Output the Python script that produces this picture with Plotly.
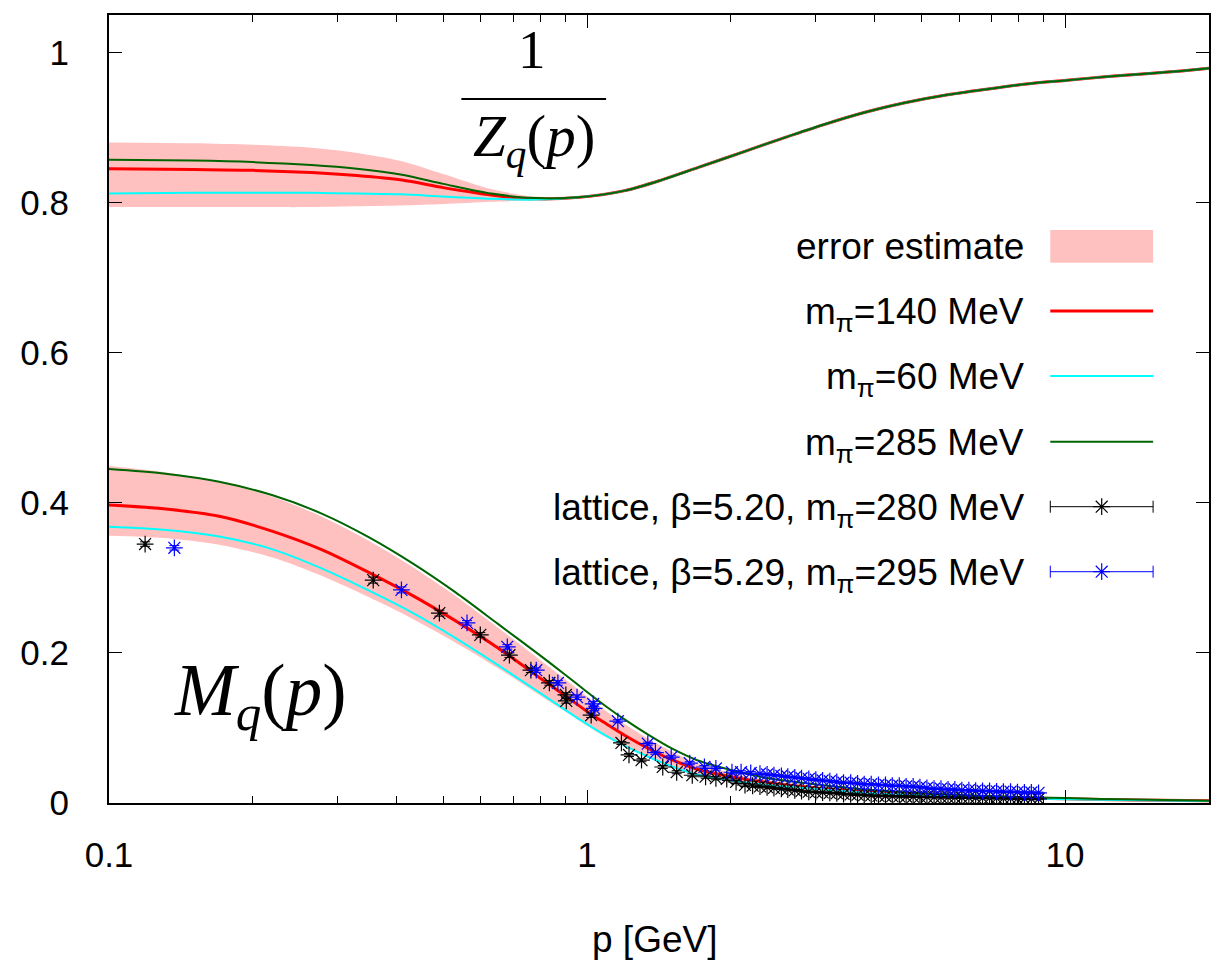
import plotly.graph_objects as go

# ---------------- data ----------------
# 1/Z_q(p) curves
pz = [0.1, 0.15, 0.2, 0.265, 0.33, 0.41, 0.5, 0.63, 0.78, 0.96, 1.2, 1.43, 1.71, 2.11,
      2.6, 3.13, 3.8, 4.62, 5.6, 6.84, 8.3, 10.1, 12.3, 15, 17.5, 20]
z_140 = [0.845, 0.844, 0.843, 0.840, 0.836, 0.830, 0.820, 0.810, 0.805, 0.807, 0.816, 0.830, 0.847, 0.867,
         0.887, 0.904, 0.920, 0.933, 0.943, 0.951, 0.958, 0.963, 0.968, 0.972, 0.9755, 0.979]
z_60 = [0.812, 0.813, 0.813, 0.813, 0.812, 0.811, 0.808, 0.805, 0.804, 0.807, 0.816, 0.830, 0.847, 0.867,
        0.887, 0.904, 0.920, 0.933, 0.943, 0.951, 0.958, 0.963, 0.968, 0.972, 0.9755, 0.979]
z_285 = [0.857, 0.856, 0.854, 0.850, 0.845, 0.837, 0.825, 0.812, 0.806, 0.807, 0.816, 0.830, 0.847, 0.867,
         0.887, 0.904, 0.920, 0.933, 0.943, 0.951, 0.958, 0.963, 0.968, 0.972, 0.9755, 0.979]
z_err_hi = [0.880, 0.879, 0.877, 0.873, 0.866, 0.855, 0.838, 0.818, 0.808, 0.809, 0.818, 0.832, 0.849, 0.869,
            0.889, 0.906, 0.922, 0.935, 0.945, 0.953, 0.960, 0.965, 0.970, 0.974, 0.9775, 0.981]
z_err_lo = [0.794, 0.794, 0.794, 0.794, 0.795, 0.796, 0.798, 0.801, 0.803, 0.805, 0.814, 0.828, 0.845, 0.865,
            0.885, 0.902, 0.918, 0.931, 0.941, 0.949, 0.956, 0.961, 0.966, 0.970, 0.9735, 0.977]

# M_q(p) curves
pm = [0.1, 0.13, 0.17, 0.22, 0.28, 0.35, 0.43, 0.53, 0.65, 0.8, 0.9, 1.0, 1.1, 1.2, 1.35, 1.5, 1.7,
      2.0, 2.4, 3.0, 4.0, 5.5, 7.5, 10, 14, 20]
m_140 = [0.397, 0.392, 0.382, 0.362, 0.337, 0.307, 0.277, 0.243, 0.207, 0.166, 0.143, 0.122, 0.105, 0.090,
         0.072, 0.058, 0.045, 0.035, 0.027, 0.020, 0.014, 0.010, 0.0072, 0.0055, 0.004, 0.003]
m_60 = [0.368, 0.364, 0.355, 0.338, 0.312, 0.283, 0.254, 0.220, 0.184, 0.146, 0.124, 0.105, 0.089, 0.076,
        0.061, 0.049, 0.038, 0.030, 0.024, 0.019, 0.013, 0.0095, 0.007, 0.005, 0.0038, 0.0028]
m_285 = [0.445, 0.439, 0.428, 0.410, 0.385, 0.354, 0.320, 0.281, 0.239, 0.196, 0.171, 0.148, 0.128, 0.111,
         0.090, 0.073, 0.057, 0.044, 0.033, 0.025, 0.017, 0.012, 0.0085, 0.0065, 0.0045, 0.003]
m_err_hi = [0.449, 0.441, 0.428, 0.408, 0.381, 0.349, 0.315, 0.276, 0.234, 0.190, 0.165, 0.142, 0.122, 0.105,
            0.085, 0.069, 0.053, 0.040, 0.030, 0.023, 0.016, 0.011, 0.008, 0.006, 0.0043, 0.0032]
m_err_lo = [0.356, 0.353, 0.344, 0.327, 0.302, 0.274, 0.246, 0.214, 0.180, 0.143, 0.122, 0.103, 0.087, 0.075,
            0.060, 0.048, 0.037, 0.029, 0.023, 0.018, 0.0125, 0.009, 0.0066, 0.0048, 0.0036, 0.0027]

# lattice data
p_dense = [2.30, 2.38, 2.46, 2.55, 2.63, 2.72, 2.81, 2.91, 3.01, 3.11, 3.22, 3.33, 3.44, 3.56, 3.68,
           3.80, 3.93, 4.07, 4.21, 4.35, 4.50, 4.65, 4.81, 4.97, 5.14, 5.32, 5.50, 5.69, 5.88, 6.08,
           6.29, 6.50, 6.72, 6.95, 7.19, 7.43, 7.69, 7.95, 8.22, 8.50, 8.80]

lat520_p = [0.119, 0.357, 0.491, 0.598, 0.688, 0.763, 0.834, 0.903, 0.905, 1.02, 1.18, 1.224, 1.30,
            1.44, 1.54, 1.66, 1.77, 1.86, 1.96, 2.05, 2.14, 2.22] + p_dense
lat520_m = [0.345, 0.297, 0.253, 0.224, 0.197, 0.177, 0.160, 0.144, 0.136, 0.117, 0.080, 0.064, 0.057,
            0.048, 0.041, 0.037, 0.035, 0.033, 0.032, 0.028, 0.024, 0.023,
            0.022, 0.021, 0.020, 0.019, 0.018, 0.017, 0.016, 0.015, 0.0145, 0.014, 0.0135, 0.013, 0.012,
            0.0115, 0.011, 0.0105, 0.010, 0.0095, 0.0093, 0.009, 0.0088, 0.0086, 0.0084, 0.0082, 0.008,
            0.0078, 0.0076, 0.0075, 0.0073, 0.0071, 0.007, 0.0068, 0.0066, 0.0065, 0.0063, 0.0061, 0.006,
            0.0058, 0.0057, 0.0055, 0.0054]
lat520_e = [0.003, 0.004, 0.004, 0.003, 0.003, 0.003, 0.003, 0.003, 0.003, 0.003, 0.002, 0.002, 0.002,
            0.002, 0.002, 0.002, 0.002, 0.002, 0.002, 0.002, 0.002, 0.002] + [0.001] * 41

lat529_p = [0.137, 0.409, 0.561, 0.681, 0.783, 0.869, 0.953, 1.03, 1.035, 1.16, 1.34, 1.39, 1.50, 1.64,
            1.76, 1.86, 2.01, 2.10, 2.20] + p_dense
lat529_m = [0.340, 0.284, 0.240, 0.208, 0.177, 0.160, 0.141, 0.132, 0.126, 0.109, 0.079, 0.067, 0.061,
            0.053, 0.048, 0.046, 0.041, 0.041, 0.040,
            0.039, 0.038, 0.037, 0.036, 0.035, 0.034, 0.033, 0.032, 0.031, 0.030, 0.029, 0.028, 0.027,
            0.027, 0.026, 0.025, 0.025, 0.024, 0.024, 0.023, 0.023, 0.022, 0.022, 0.021, 0.020, 0.019,
            0.019, 0.018, 0.018, 0.017, 0.017, 0.0165, 0.016, 0.016, 0.0155, 0.015, 0.015, 0.0145,
            0.014, 0.014, 0.0135]
lat529_e = [0.003, 0.004, 0.003, 0.003, 0.003, 0.003, 0.003, 0.003, 0.003, 0.002, 0.002, 0.002, 0.002,
            0.002, 0.002, 0.002, 0.002, 0.002, 0.002] + [0.001] * 41

y_tickvals = [0, 0.2, 0.4, 0.6, 0.8, 1]

legend_labels = ["error estimate", "m<sub>π</sub>=140 MeV", "m<sub>π</sub>=60 MeV",
                 "m<sub>π</sub>=285 MeV", "lattice, β=5.20, m<sub>π</sub>=280 MeV",
                 "lattice, β=5.29, m<sub>π</sub>=295 MeV"]

# ---------------- styling ----------------
W, H = 1223, 970
ML, MR, MT, MB = 109, 12, 15, 167
PW, PH = W - ML - MR, H - MT - MB
PINK = "#ffc0c0"
RED, CYAN, GREEN = "#ff0000", "#00ffff", "#006400"
BLACK, BLUE = "#000000", "#0000ff"
FONT = "Liberation Sans"
SERIF = "Liberation Serif"
SPL = dict(shape="spline", smoothing=0.8)


def px2paper_x(px):
    return (px - ML) / PW


def px2paper_y(py):
    return (H - MB - py) / PH


fig = go.Figure()

# error bands
for p, lo, hi in [(pz, z_err_lo, z_err_hi), (pm, m_err_lo, m_err_hi)]:
    fig.add_trace(go.Scatter(x=p, y=lo, mode="lines", line=dict(width=0, **SPL),
                             hoverinfo="skip", showlegend=False))
    fig.add_trace(go.Scatter(x=p, y=hi, mode="lines", line=dict(width=0, **SPL),
                             fill="tonexty", fillcolor=PINK, hoverinfo="skip", showlegend=False))

# curves
for p, y140, y60, y285 in [(pz, z_140, z_60, z_285), (pm, m_140, m_60, m_285)]:
    fig.add_trace(go.Scatter(x=p, y=y140, mode="lines", line=dict(color=RED, width=3, **SPL), showlegend=False))
    fig.add_trace(go.Scatter(x=p, y=y60, mode="lines", line=dict(color=CYAN, width=2, **SPL), showlegend=False))
    fig.add_trace(go.Scatter(x=p, y=y285, mode="lines", line=dict(color=GREEN, width=2, **SPL), showlegend=False))

# lattice points
MK = dict(symbol="asterisk-open", size=14)
for p, m, e, col in [(lat520_p, lat520_m, lat520_e, BLACK), (lat529_p, lat529_m, lat529_e, BLUE)]:
    fig.add_trace(go.Scatter(
        x=p, y=m, mode="markers",
        marker=dict(color=col, line=dict(color=col, width=1.2), **MK),
        error_y=dict(type="data", array=e, visible=True, color=col, thickness=1, width=5),
        showlegend=False))

# legend (gnuplot style: text right-aligned, sample on the right)
row_y = [246.5, 311, 376, 441.7, 506.7, 571.7]
sx0, sx1 = px2paper_x(1052), px2paper_x(1155)
sxm = px2paper_x(1103.5)
tx = px2paper_x(1028)
shapes = []
annotations = []
for i, lab in enumerate(legend_labels):
    yy = px2paper_y(row_y[i] + (0 if i == 0 else 3))
    annotations.append(dict(text=lab, x=tx, y=yy, xref="paper", yref="paper",
                            xanchor="right", yanchor="middle", showarrow=False,
                            font=dict(family=FONT, size=37, color="black")))
shapes.append(dict(type="rect", xref="paper", yref="paper", x0=sx0, x1=sx1,
                   y0=px2paper_y(262.7), y1=px2paper_y(230), fillcolor=PINK, line=dict(width=0)))
for i, (col, w) in zip([1, 2, 3], [(RED, 3), (CYAN, 2), (GREEN, 2)]):
    yy = px2paper_y(row_y[i])
    shapes.append(dict(type="line", xref="paper", yref="paper", x0=sx0, x1=sx1, y0=yy, y1=yy,
                       line=dict(color=col, width=w)))
cap = 6 / PH
for i, col in [(4, BLACK), (5, BLUE)]:
    yy = px2paper_y(row_y[i])
    shapes.append(dict(type="line", xref="paper", yref="paper", x0=sx0, x1=sx1, y0=yy, y1=yy,
                       line=dict(color=col, width=1)))
    for xx in (sx0, sx1):
        shapes.append(dict(type="line", xref="paper", yref="paper", x0=xx, x1=xx, y0=yy - cap, y1=yy + cap,
                           line=dict(color=col, width=1)))
    fig.add_trace(go.Scatter(x=[sxm], y=[yy], xaxis="x2", yaxis="y2", mode="markers",
                             marker=dict(color=col, line=dict(color=col, width=1.2), **MK),
                             showlegend=False, hoverinfo="skip"))

# math labels
annotations.append(dict(text="1", x=px2paper_x(533), y=px2paper_y(50), xref="paper", yref="paper",
                        xanchor="center", yanchor="middle", showarrow=False,
                        font=dict(family=SERIF, size=55, color="black")))
shapes.append(dict(type="line", xref="paper", yref="paper", x0=px2paper_x(462), x1=px2paper_x(607),
                   y0=px2paper_y(99), y1=px2paper_y(99), line=dict(color="black", width=2)))
annotations.append(dict(text="<i>Z</i><sub><i>q</i></sub>(<i>p</i>)", x=px2paper_x(535), y=px2paper_y(140),
                        xref="paper", yref="paper", xanchor="center", yanchor="middle", showarrow=False,
                        font=dict(family=SERIF, size=59, color="black")))
annotations.append(dict(text="<i>M</i><sub><i>q</i></sub>(<i>p</i>)", x=px2paper_x(172), y=px2paper_y(695),
                        xref="paper", yref="paper", xanchor="left", yanchor="middle", showarrow=False,
                        font=dict(family=SERIF, size=73, color="black")))
# x-axis title
annotations.append(dict(text="p [GeV]", x=px2paper_x(655), y=px2paper_y(940), xref="paper", yref="paper",
                        xanchor="center", yanchor="middle", showarrow=False,
                        font=dict(family=FONT, size=37, color="black")))

fig.update_layout(
    width=W, height=H,
    margin=dict(l=ML, r=MR, t=MT, b=MB, pad=0),
    paper_bgcolor="white", plot_bgcolor="white",
    font=dict(family=FONT, size=35, color="black"),
    showlegend=False,
    shapes=shapes, annotations=annotations,
    xaxis=dict(type="log", range=[-1, 1.30103], tickmode="linear", tick0=0, dtick=1,
               ticks="inside", ticklen=13, tickwidth=1, tickcolor="black",
               minor=dict(dtick="D1", ticks="inside", ticklen=7, tickwidth=1,
                          tickcolor="black", showgrid=False),
               showline=True, linewidth=2, linecolor="black", mirror="ticks", showgrid=False, zeroline=False,
               ticklabelstandoff=20, tickfont=dict(family=FONT, size=35)),
    yaxis=dict(range=[0, 1.05], tickmode="array", tickvals=y_tickvals,
               ticks="inside", ticklen=13, tickwidth=1, tickcolor="black",
               showline=True, linewidth=2, linecolor="black", mirror="ticks", showgrid=False, zeroline=False,
               ticklabelstandoff=31, tickfont=dict(family=FONT, size=35)),
    xaxis2=dict(overlaying="x", range=[0, 1], visible=False, fixedrange=True),
    yaxis2=dict(overlaying="y", range=[0, 1], visible=False, fixedrange=True),
)

fig.write_html("out.html", config={"displayModeBar": False},
               post_script="document.body.style.margin='0';document.body.style.overflow='hidden';")
